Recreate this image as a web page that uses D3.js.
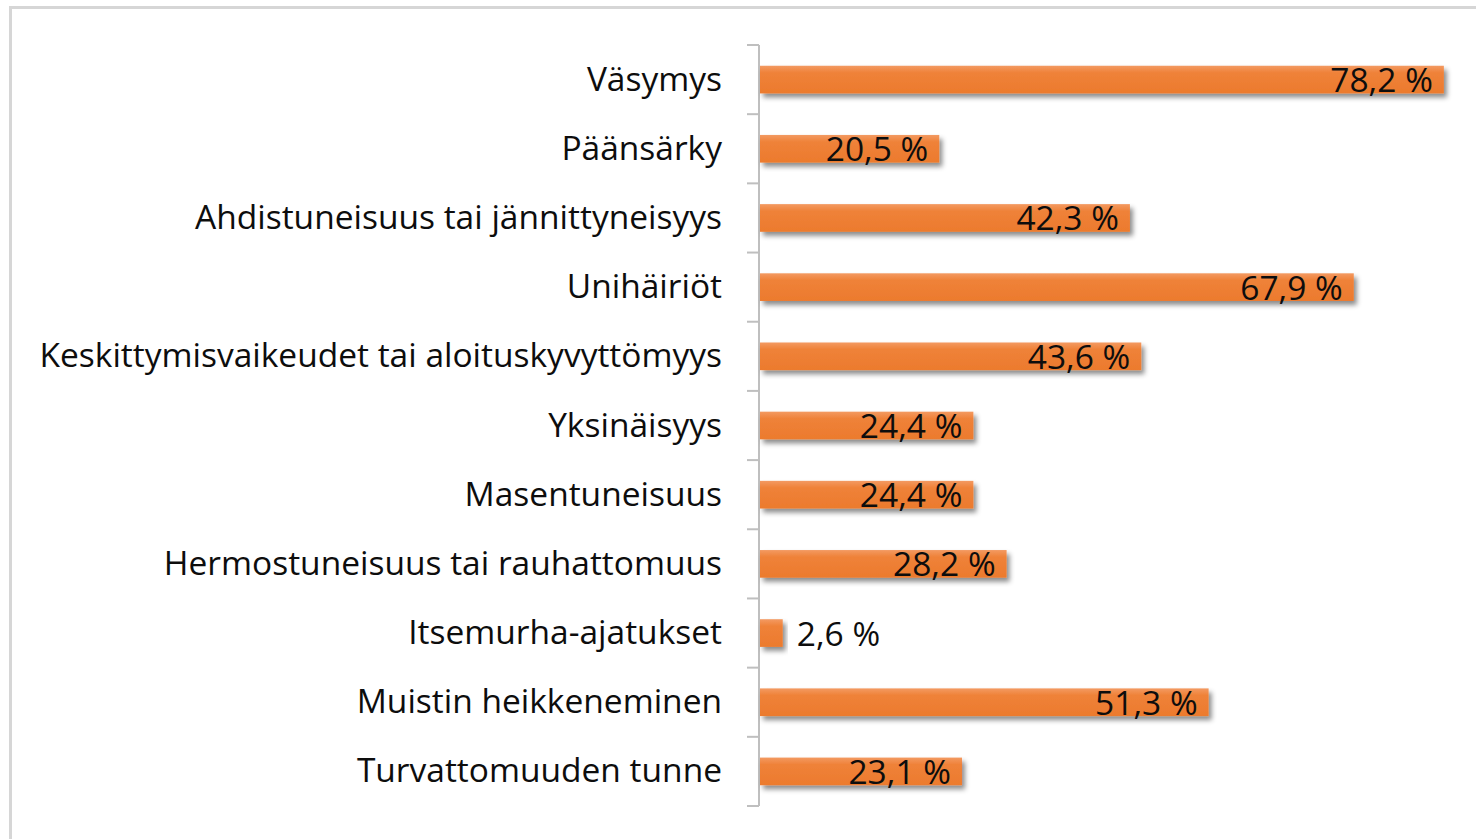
<!DOCTYPE html>
<html>
<head>
<meta charset="utf-8">
<script src="https://cdn.jsdelivr.net/npm/d3@7"></script>
<style>
  body { margin: 0; background: #fff; }
  text { font-family: "Open Sans", Lato, sans-serif; fill: #0d0d0d; }
</style>
</head>
<body>
<div id="chart"></div>
<script>
// categories, top to bottom
var categories = [
  "Väsymys",
  "Päänsärky",
  "Ahdistuneisuus tai jännittyneisyys",
  "Unihäiriöt",
  "Keskittymisvaikeudet tai aloituskyvyttömyys",
  "Yksinäisyys",
  "Masentuneisuus",
  "Hermostuneisuus tai rauhattomuus",
  "Itsemurha-ajatukset",
  "Muistin heikkeneminen",
  "Turvattomuuden tunne"
];
// percent values
var values = [78.2, 20.5, 42.3, 67.9, 43.6, 24.4, 24.4, 28.2, 2.6, 51.3, 23.1];

var width = 1476, height = 839;
var margin = {top: 45, left: 759, bottom: 33};

var data = categories.map(function(c, i) { return {name: c, value: values[i]}; });

var svg = d3.select("#chart").append("svg")
    .attr("width", width)
    .attr("height", height);

var defs = svg.append("defs");
var grad = defs.append("linearGradient")
    .attr("id", "barGrad")
    .attr("x1", 0).attr("y1", 0).attr("x2", 0).attr("y2", 1);
grad.append("stop").attr("offset", "0%").attr("stop-color", "#f39a62");
grad.append("stop").attr("offset", "25%").attr("stop-color", "#ef8239");
grad.append("stop").attr("offset", "100%").attr("stop-color", "#ec7a2d");

var shadow = defs.append("filter")
    .attr("id", "shadow")
    .attr("x", "-10%").attr("y", "-50%")
    .attr("width", "130%").attr("height", "250%");
shadow.append("feDropShadow")
    .attr("dx", 3).attr("dy", 4)
    .attr("stdDeviation", 2.5)
    .attr("flood-color", "#000")
    .attr("flood-opacity", 0.45);

// outer frame
svg.append("rect")
    .attr("x", 10.5).attr("y", 7.5)
    .attr("width", width + 20).attr("height", height + 20)
    .attr("fill", "none")
    .attr("stroke", "#d6d6d6")
    .attr("stroke-width", 3);

// scales
var x = d3.scaleLinear().domain([0, 80]).range([margin.left + 1, margin.left + 1 + 80 * 8.745]);
var y = d3.scaleBand()
    .domain(categories)
    .range([margin.top, height - margin.bottom])
    .paddingInner(0.6)
    .paddingOuter(0.3);

var step = y.step();

// axis line + ticks at band boundaries
var axisG = svg.append("g").attr("class", "axis");
axisG.append("line")
    .attr("x1", margin.left).attr("x2", margin.left)
    .attr("y1", margin.top).attr("y2", height - margin.bottom)
    .attr("stroke", "#bfbfbf").attr("stroke-width", 2);
axisG.selectAll(".tick")
    .data(d3.range(categories.length + 1))
    .enter().append("line")
    .attr("x1", margin.left - 12).attr("x2", margin.left)
    .attr("y1", function(i) { return margin.top + i * step; })
    .attr("y2", function(i) { return margin.top + i * step; })
    .attr("stroke", "#bfbfbf").attr("stroke-width", 2);

// category labels
svg.selectAll(".cat")
    .data(data)
    .enter().append("text")
    .attr("class", "cat")
    .attr("x", margin.left - 37)
    .attr("y", function(d) { return y(d.name) + y.bandwidth() / 2 + 11; })
    .attr("text-anchor", "end")
    .style("font-size", "33.5px")
    .text(function(d) { return d.name; });

// bars
svg.selectAll(".bar")
    .data(data)
    .enter().append("rect")
    .attr("class", "bar")
    .attr("x", x(0))
    .attr("y", function(d) { return y(d.name); })
    .attr("width", function(d) { return x(d.value) - x(0); })
    .attr("height", y.bandwidth())
    .attr("fill", "url(#barGrad)")
    .attr("filter", "url(#shadow)");

// value labels
var fmt = function(v) { return d3.format(".1f")(v).replace(".", ",") + " %"; };
svg.selectAll(".val")
    .data(data)
    .enter().append("text")
    .attr("class", "val")
    .attr("x", function(d) { return d.value < 10 ? x(d.value) + 14 : x(d.value) - 11; })
    .attr("y", function(d) { return y(d.name) + y.bandwidth() / 2 + 12.5; })
    .attr("text-anchor", function(d) { return d.value < 10 ? "start" : "end"; })
    .style("font-size", "33.5px")
    .text(function(d) { return fmt(d.value); });
</script>
</body>
</html>
